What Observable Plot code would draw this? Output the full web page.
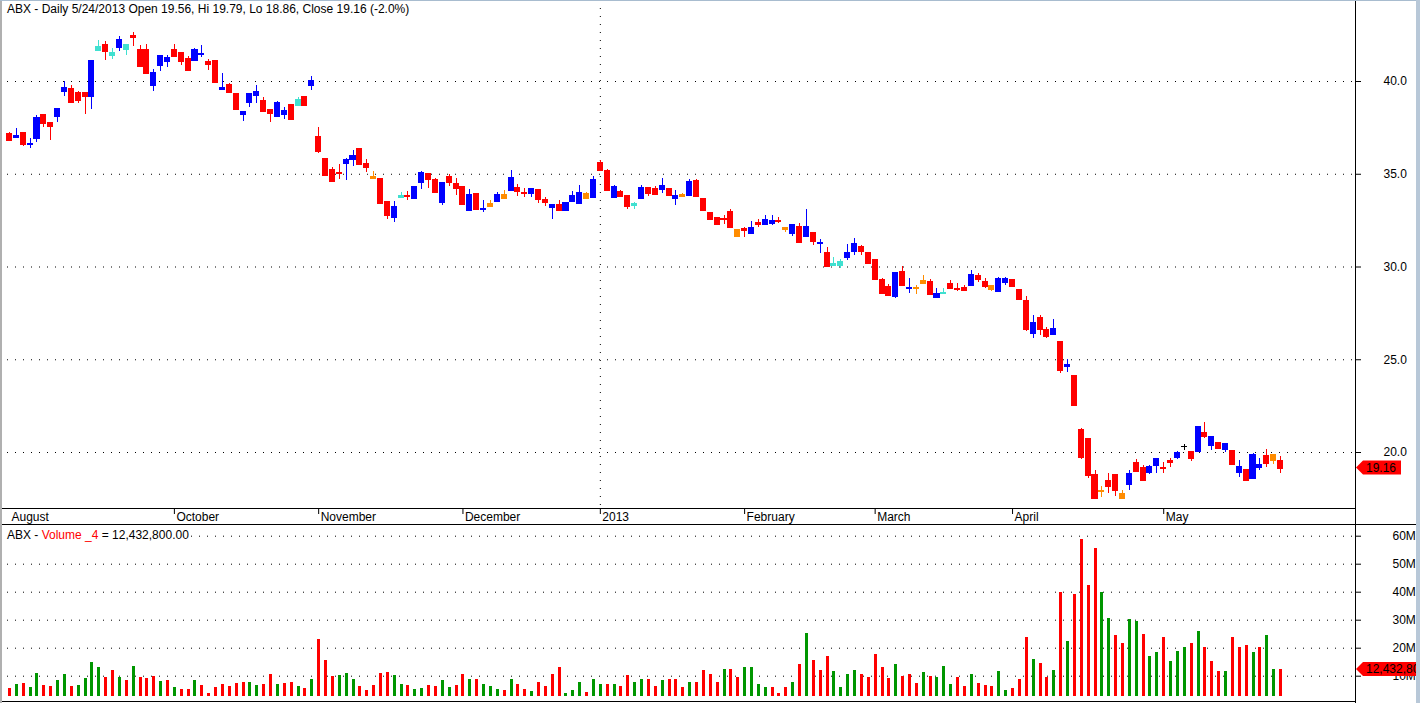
<!DOCTYPE html>
<html><head><meta charset="utf-8">
<script src="https://cdn.jsdelivr.net/npm/d3@7"></script>
<script src="https://cdn.jsdelivr.net/npm/@observablehq/plot@0.6"></script>
<style>
html,body{margin:0;padding:0;background:#fff;}
#wrap{position:relative;width:1420px;height:703px;overflow:hidden;background:#fff;font-family:"Liberation Sans",Arial,sans-serif;font-size:12px;color:#000;}
.abs{position:absolute;}
.ln{position:absolute;background:#000;}
.title{position:absolute;white-space:nowrap;line-height:14px;font-size:12px;background:#fff;}
</style></head><body><div id="wrap"></div>
<script>
// ---- data (prices in $, volume in millions of shares) ----
const opens = [37.21,36.99,37.24,36.58,36.94,38.22,37.78,38.13,39.48,39.64,
39.42,39.41,39.19,41.68,42.02,41.41,41.84,41.75,42.50,41.73,
41.73,39.78,40.86,41.10,41.73,41.57,41.24,41.14,41.48,41.08,
41.14,39.59,39.82,39.35,38.22,38.86,39.24,38.97,38.50,38.13,
38.22,38.77,38.70,39.19,39.80,37.03,35.86,35.27,35.11,35.56,
35.77,36.40,35.59,34.89,34.78,33.54,32.68,33.76,33.87,33.71,
34.57,35.05,34.73,33.49,34.89,34.51,34.35,33.06,33.98,33.11,
33.44,33.54,33.92,34.14,34.30,34.03,33.98,34.19,33.65,33.22,
33.38,33.06,33.54,33.44,33.98,33.76,35.65,35.22,33.76,34.08,
33.84,33.32,33.67,34.27,34.21,34.16,34.21,33.67,33.89,33.84,
34.64,33.67,32.92,32.65,32.63,32.97,32.01,32.06,31.79,32.38,
32.28,32.33,32.49,32.11,31.79,32.17,31.63,31.85,31.25,30.77,
30.07,30.07,30.50,30.82,31.09,30.77,30.39,29.32,28.94,28.41,
29.75,28.84,28.89,29.27,29.21,28.37,28.58,29.10,28.84,28.89,
29.00,29.53,29.21,29.00,28.67,29.16,29.32,28.78,28.19,26.42,
27.28,26.63,26.36,25.99,24.62,24.15,21.24,20.75,18.81,17.95,
18.49,18.81,17.79,18.29,19.46,19.19,18.92,19.32,19.19,19.57,
19.73,20.31,20.05,20.05,21.08,20.38,20.54,20.16,20.11,18.92,
19.08,18.60,19.19,19.84,19.89,19.56];
const highs = [37.26,37.48,37.24,36.92,38.16,38.22,37.78,38.56,39.98,39.78,
39.48,39.41,41.14,42.22,42.18,41.77,42.40,42.02,42.65,41.95,
41.98,40.63,41.41,41.41,42.00,41.57,41.35,41.77,41.96,41.17,
41.14,40.45,39.91,39.35,38.38,39.35,39.77,39.12,38.50,38.94,
38.59,38.77,39.14,39.19,40.29,37.52,35.86,35.38,35.54,35.86,
36.29,36.40,35.81,35.16,34.78,33.54,33.54,34.03,34.08,34.35,
35.16,35.05,34.78,34.57,35.00,34.78,34.35,34.19,33.98,33.60,
33.60,34.03,34.14,35.22,34.46,34.25,34.25,34.19,33.76,33.38,
33.60,33.49,34.08,34.41,34.03,34.89,35.75,35.27,34.41,34.14,
33.84,33.48,34.37,34.27,34.32,34.75,34.21,34.10,33.94,34.70,
34.70,33.67,32.92,32.65,32.76,33.08,32.01,32.11,32.44,32.54,
32.76,32.76,32.65,32.11,32.28,32.33,33.08,31.85,31.47,31.04,
30.50,30.39,31.20,31.52,31.15,30.77,30.39,29.37,29.05,29.70,
30.02,29.37,29.00,29.53,29.32,28.84,28.84,29.27,29.10,29.00,
29.80,29.64,29.37,29.00,29.43,29.43,29.32,28.78,28.40,27.38,
27.38,26.74,27.17,25.99,25.02,24.15,21.30,20.75,19.03,18.17,
18.87,18.81,17.95,19.03,19.62,19.30,19.30,19.68,19.46,19.68,
20.05,20.43,20.05,21.40,21.62,20.86,20.54,20.49,20.11,19.57,
19.08,19.95,19.68,20.16,19.89,19.79];
const lows = [36.76,36.94,36.50,36.40,36.72,37.53,36.81,37.78,39.21,38.88,
38.83,38.22,38.49,41.62,41.14,41.21,41.62,41.41,41.89,40.76,
40.45,39.48,40.56,40.77,41.32,40.88,40.54,41.14,41.32,40.59,
39.96,39.59,39.40,38.43,37.84,38.58,38.83,38.38,37.77,38.13,
37.95,37.90,38.63,38.68,39.53,36.13,34.91,34.57,34.73,34.64,
35.40,35.54,35.11,34.78,33.38,32.57,32.41,33.71,33.60,33.65,
34.19,34.25,34.03,33.33,34.35,33.87,33.38,33.01,33.06,32.95,
33.22,33.54,33.71,34.08,33.81,33.76,33.76,33.44,33.27,32.57,
33.06,33.01,33.54,33.44,33.71,33.76,35.16,34.08,33.71,33.78,
33.10,33.10,33.67,33.80,33.89,33.94,33.78,33.30,33.73,33.78,
33.78,33.03,32.49,32.22,32.28,32.11,31.58,31.58,31.79,32.11,
32.22,32.22,32.33,31.85,31.63,31.31,31.63,31.15,30.71,30.02,
30.02,29.91,30.34,30.61,30.61,30.13,29.32,28.51,28.46,28.30,
28.94,28.57,28.51,29.12,28.46,28.37,28.51,28.84,28.67,28.67,
28.94,29.16,28.84,28.67,28.62,29.00,28.94,28.24,26.52,26.15,
26.31,26.15,26.36,24.27,24.33,22.50,19.64,18.60,17.47,17.57,
17.79,17.63,17.54,17.95,18.98,18.49,18.81,18.87,18.87,19.19,
19.62,20.11,19.51,20.05,20.75,20.11,20.22,20.00,19.30,18.65,
18.44,18.60,19.03,19.19,19.35,18.86];
const closes = [36.81,37.08,36.59,36.67,38.07,37.75,37.59,38.56,39.68,38.88,
38.99,39.19,41.14,41.91,41.62,41.57,42.27,42.02,42.36,40.79,
40.45,40.50,41.41,41.30,41.35,41.08,40.59,41.73,41.53,40.90,
39.96,39.66,39.42,38.49,38.38,39.35,39.46,38.40,38.29,38.88,
38.43,37.95,39.03,38.68,40.05,36.22,34.91,34.59,35.05,35.81,
36.02,35.54,35.38,34.78,33.44,32.79,33.27,33.87,33.81,34.35,
35.11,34.73,34.03,34.57,34.57,34.25,33.38,33.92,33.11,33.17,
33.27,33.92,33.71,34.84,34.08,33.98,34.25,33.65,33.49,33.38,
33.06,33.49,33.87,34.03,33.71,34.73,35.22,34.14,34.35,33.81,
33.26,33.42,34.27,33.94,33.89,34.37,33.84,33.84,33.78,34.59,
33.78,33.03,32.54,32.28,32.56,32.11,31.63,31.95,32.11,32.28,
32.54,32.49,32.44,32.01,32.28,31.31,32.17,31.36,31.31,30.02,
30.18,30.29,30.77,31.25,30.82,30.18,29.32,28.57,28.46,29.70,
29.00,28.89,28.85,29.12,28.51,28.57,28.64,28.84,28.78,28.73,
29.59,29.32,28.94,28.78,29.37,29.37,28.94,28.24,26.63,27.01,
26.63,26.25,26.68,24.43,24.75,22.53,19.75,18.76,17.52,17.90,
18.17,17.95,17.54,18.87,18.98,18.49,19.25,19.68,19.14,19.46,
20.00,20.31,19.68,21.40,20.86,20.86,20.22,20.49,19.35,19.25,
18.49,19.89,19.35,19.41,19.55,19.16];
// candle colour class: R down, B up, T up (turquoise), O down (orange), K doji
const candleKinds = ("RBRBBRRBBR"+"RRBTRTBTRR"+"RBBBRRRBBR"+"RBRRBBBRRB"+"BRTRBRRRRB"+
"BRRORRBTRB"+"BRRBRRRBRB"+"OBOBRRBRRB"+"RBBBOBRRBR"+"RTBRRBRBOB"+
"RRRRRRORBR"+"BBROBRBRBR"+"TTBBRRRRRB"+"RBOORBTRRR"+"BRROBBRRRB"+
"RRBRBRRRRO"+"RROBRRBBRR"+"BKRBRBRBRB"+"RBBROR").split("");
const volumes = [5.7,7.0,7.4,6.1,11.0,6.8,6.4,8.5,10.6,6.4,
6.8,9.2,14.9,13.2,9.5,12.0,9.6,8.5,13.5,9.5,
9.2,10.0,8.1,8.5,6.1,5.2,5.2,8.5,6.8,3.9,
6.1,7.0,6.4,7.4,7.7,7.7,6.8,7.0,10.6,7.0,
7.4,7.7,6.4,5.7,8.8,23.1,15.6,10.0,10.2,11.0,
8.8,6.4,4.9,6.8,11.0,11.3,10.2,7.0,6.8,5.2,
5.7,6.7,6.4,8.5,6.1,6.8,
10.5,8.7,9.0,7.2,6.3,5.4,5.0,8.7,6.9,5.4,
4.7,7.6,6.5,10.5,13.0,4.0,5.0,7.6,4.3,8.7,
7.2,6.9,7.2,6.5,10.1,7.6,9.0,8.7,6.5,8.3,
8.7,9.0,5.8,7.9,7.9,11.9,10.5,7.6,12.3,12.3,
9.4,13.0,13.0,6.9,6.1,6.1,4.0,6.1,7.9,14.1,
25.3,15.6,11.9,17.0,11.6,6.1,10.5,11.9,10.5,9.4,
17.7,13.0,
9.3,14.3,10.0,10.7,7.5,11.4,10.0,9.6,13.6,7.1,
9.6,6.4,10.7,7.5,6.7,6.4,11.8,4.9,5.7,9.0,
23.7,15.8,14.7,9.6,12.2,40.0,22.3,39.3,58.8,42.5,
55.5,40.0,30.6,24.5,21.6,30.2,29.5,24.8,16.9,18.3,
23.7,15.1,19.0,20.1,21.6,25.9,20.1,15.1,11.8,11.8,
23.7,20.1,20.8,18.3,20.1,24.5,12.5,12.4328];
// volume class: g = up day, r = down day
const volumeKinds = ("rgrggrrggr"+"ggggrrgrgr"+"rrgrgrrgrr"+"rrrrrggrrg"+"rrgrgrrrgg"+"grrrrrggrg"+"grrggr"+
"rgrgggrgrr"+"grrrrgggrg"+"grgrrggrrg"+"rrrgrrrrgr"+"rggggrrrgr"+"grrrggggrr"+"rr"+
"rgrrrgrggg"+"rrgrrrggrr"+"rgrrgrgrrr"+"rggrrggrgg"+"rgggrgrrrg"+"rrrgrggr").split("");
const monthLabels = ["August","October","November","December","2013","February","March","April","May"];
const monthStarts = [0,24,45,66,86,107,126,146,168];
const yearStart = [86];
const priceTicks = [20,25,30,35,40];
const volumeTicks = [10,20,30,40,50,60];
const volumeBase = 2.86;
const titleText = "ABX - Daily 5/24/2013 Open 19.56, Hi 19.79, Lo 18.86, Close 19.16 (-2.0%)";
const lastVolumeText = "12,432,800";

// ---- build ----
const candles = opens.map((o, i) => ({i, open: o, high: highs[i], low: lows[i], close: closes[i], kind: candleKinds[i]}));
const vols = volumes.map((v, i) => ({i, vol: v, kind: volumeKinds[i]}));
const W = 0.44;
const font = {fontFamily: "'Liberation Sans', Arial, sans-serif", fontSize: "12px", background: "transparent", overflow: "visible"};

const price = Plot.plot({
  width: 1420, height: 524,
  marginLeft: 7, marginRight: 65, marginTop: 0, marginBottom: 16,
  style: font,
  x: {domain: [0, 185], range: [9, 1280]},
  y: {domain: [20, 40], range: [452, 81]},
  color: {domain: ["R","B","T","O","K"], range: ["#ff0000","#0000ff","#40e0d0","#ff8c00","#000000"]},
  marks: [
    Plot.gridY(priceTicks, {stroke: "#000", strokeOpacity: 1, strokeDasharray: "1,7"}),
    Plot.ruleX(yearStart, {stroke: "#000", strokeDasharray: "1,7"}),
    Plot.ruleX(candles, {x: "i", y1: "low", y2: "high", stroke: "kind", shapeRendering: "crispEdges"}),
    Plot.rect(candles, {x1: d => d.i - W, x2: d => d.i + W, y1: "open", y2: "close", fill: "kind", shapeRendering: "crispEdges"}),
    Plot.ruleY(candles, {y: "close", x1: d => d.i - W, x2: d => d.i + W, stroke: "kind", shapeRendering: "crispEdges"}),
    Plot.ruleY(candles, {y: "open", x1: d => d.i - W, x2: d => d.i + W, stroke: "kind", shapeRendering: "crispEdges"}),
    Plot.axisY(priceTicks, {anchor: "right", tickSize: 5, tickPadding: 23, tickFormat: d3.format(".1f"), label: null, fontSize: 12}),
    Plot.axisX(monthStarts.slice(1), {anchor: "bottom", tickSize: 6, tickFormat: () => "", label: null}),
    Plot.axisX(monthStarts, {anchor: "bottom", tickSize: 0, tickPadding: 3.5, textAnchor: "start", dx: 2, fontSize: 12,
      tickFormat: d => monthLabels[monthStarts.indexOf(d)], label: null})
  ]
});

const volume = Plot.plot({
  width: 1420, height: 179,
  marginLeft: 7, marginRight: 65, marginTop: 0, marginBottom: 0,
  style: font,
  x: {domain: [0, 185], range: [9, 1280], axis: null},
  y: {domain: [10, 60], range: [151.7, 11.7]},
  color: {domain: ["r","g"], range: ["#ff0000","#009600"]},
  marks: [
    Plot.gridY(volumeTicks, {stroke: "#000", strokeOpacity: 1, strokeDasharray: "1,7"}),
    Plot.ruleX(vols, {x: "i", y1: volumeBase, y2: "vol", stroke: "kind", strokeWidth: 3, shapeRendering: "crispEdges"}),
    Plot.axisY(volumeTicks, {anchor: "right", tickSize: 5, tickPadding: 32, tickFormat: d => d + "M", label: null, fontSize: 12})
  ]
});

const wrap = document.getElementById("wrap");
price.style.position = "absolute"; price.style.left = "0px"; price.style.top = "0px";
volume.style.position = "absolute"; volume.style.left = "0px"; volume.style.top = "524px";
wrap.appendChild(price);
wrap.appendChild(volume);

function tag(svg, cy, label, x2) {
  const g = d3.select(svg).append("g");
  g.append("polygon")
    .attr("points", `1356,${cy} 1363,${cy-7} ${x2},${cy-7} ${x2},${cy+7} 1363,${cy+7}`)
    .attr("fill", "#ff0000");
  g.append("text").attr("x", 1366).attr("y", cy + 4.5).attr("fill", "#000")
    .attr("text-anchor", "start").attr("font-size", 12).text(label);
}
tag(price, price.scale("y").apply(closes[closes.length - 1]), d3.format(".2f")(closes[closes.length - 1]), 1401);
tag(volume, volume.scale("y").apply(volumes[volumes.length - 1]), lastVolumeText, 1440);

function line(x, y, w, h, color) {
  const d = document.createElement("div");
  d.className = "ln";
  Object.assign(d.style, {left: x + "px", top: y + "px", width: w + "px", height: h + "px"});
  if (color) d.style.background = color;
  wrap.appendChild(d);
}
line(0, 508, 1355, 1);
line(0, 524, 1420, 1);
line(0, 701, 1355, 1);
line(1355, 0, 1, 703);
line(0, 0, 2, 703, "#b0b0b0");
line(0, 0, 1420, 1, "#a8bccf");
line(1416, 0, 4, 703, "#b8c8d8");

const t1 = document.createElement("div");
t1.className = "title"; t1.style.left = "7px"; t1.style.top = "2px";
t1.textContent = titleText;
wrap.appendChild(t1);
const t2 = document.createElement("div");
t2.className = "title"; t2.style.left = "7px"; t2.style.top = "528px";
t2.innerHTML = 'ABX - <span style="color:#ff0000">Volume _4</span> = 12,432,800.00';
wrap.appendChild(t2);
</script>
</body></html>
